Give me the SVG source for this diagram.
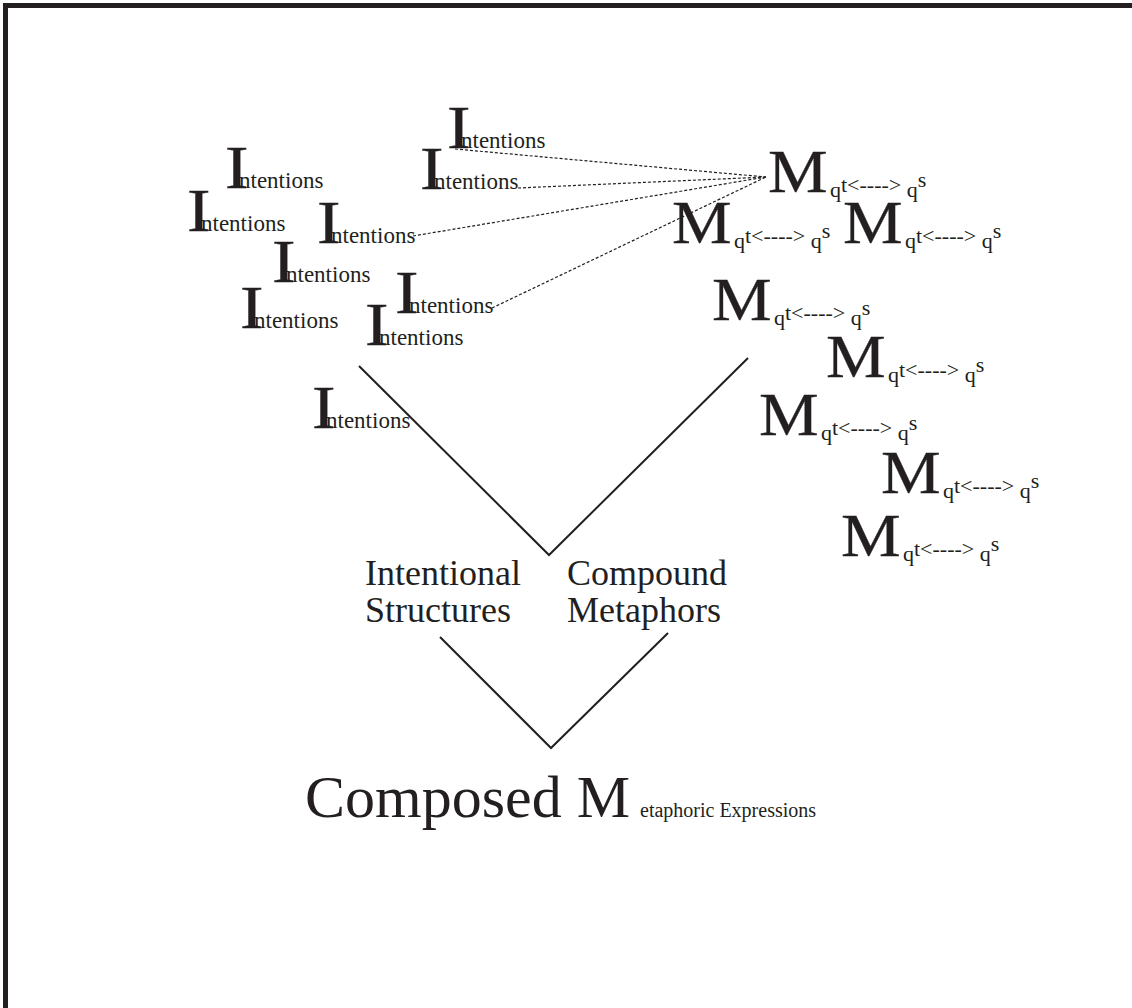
<svg xmlns="http://www.w3.org/2000/svg" width="1132" height="1008" viewBox="0 0 1132 1008">
<style>
text{font-family:"Liberation Serif","Times New Roman",serif;fill:#231f20}
.bigI{font-size:62px;stroke:#231f20;stroke-width:0.4}
.sm{font-size:23px}
.bigM{font-size:61px;stroke:#231f20;stroke-width:0.3}
.sub{font-size:22px}
.lbl{font-size:36px}
.ttl{font-size:60px}
.ttlsm{font-size:20px}
.dot{stroke:#231f20;stroke-width:1.2;stroke-dasharray:3 2;fill:none}
.solid{stroke:#231f20;stroke-width:2;fill:none}
</style>
<defs>
<g id="intent"><text class="bigI" x="0" y="0" transform="scale(1.14,1)">I</text><text class="sm" x="14" y="0">ntentions</text></g>
<g id="meta"><text class="bigM" x="0" y="0" transform="scale(1.1,1)">M</text><text class="sub" x="62" y="5">q<tspan dy="-5">t&lt;----&gt;</tspan><tspan dy="5"> q</tspan><tspan dy="-10">s</tspan></text></g>
</defs>
<rect x="5.5" y="5.5" width="1200" height="1100" fill="none" stroke="#231f20" stroke-width="5"/>
<g id="connectors">
<line class="dot" x1="455" y1="149" x2="766" y2="177"/>
<line class="dot" x1="518" y1="188" x2="766" y2="177"/>
<line class="dot" x1="413" y1="236" x2="766" y2="177"/>
<line class="dot" x1="492" y1="308" x2="766" y2="177"/>
<polyline class="solid" points="359,366 549,555 748,358"/>
<polyline class="solid" points="440,637 551,748 668,633"/>
</g>
<g id="intention-a"><use href="#intent" x="447" y="148"/></g>
<g id="intention-b"><use href="#intent" x="420" y="189"/></g>
<g id="intention-c"><use href="#intent" x="225" y="188"/></g>
<g id="intention-d"><use href="#intent" x="187" y="231"/></g>
<g id="intention-e"><use href="#intent" x="317" y="243"/></g>
<g id="intention-f"><use href="#intent" x="272" y="282"/></g>
<g id="intention-g"><use href="#intent" x="240" y="328"/></g>
<g id="intention-h"><use href="#intent" x="395" y="313"/></g>
<g id="intention-i"><use href="#intent" x="365" y="345"/></g>
<g id="intention-j"><use href="#intent" x="312" y="428"/></g>
<g id="metaphor-1"><use href="#meta" x="768" y="192"/></g>
<g id="metaphor-2"><use href="#meta" x="672" y="243"/></g>
<g id="metaphor-3"><use href="#meta" x="843" y="243"/></g>
<g id="metaphor-4"><use href="#meta" x="712" y="320"/></g>
<g id="metaphor-5"><use href="#meta" x="826" y="377"/></g>
<g id="metaphor-6"><use href="#meta" x="759" y="435"/></g>
<g id="metaphor-7"><use href="#meta" x="881" y="493"/></g>
<g id="metaphor-8"><use href="#meta" x="841" y="556"/></g>
<g id="intentional-structures"><text class="lbl" x="365" y="585">Intentional</text><text class="lbl" x="365" y="622">Structures</text></g>
<g id="compound-metaphors"><text class="lbl" x="567" y="585">Compound</text><text class="lbl" x="567" y="622">Metaphors</text></g>
<g id="composed"><text class="ttl" x="305" y="817">Composed M</text><text class="ttlsm" x="640" y="817">etaphoric Expressions</text></g>
</svg>
